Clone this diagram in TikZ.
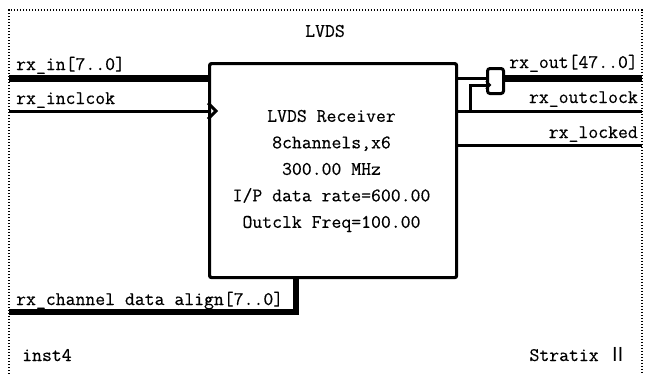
\documentclass[tikz,border=0pt]{standalone}
\usepackage{fontspec}
\setmonofont{Latin Modern Mono}[FakeBold=0.35]
\newfontfamily\cjk{Noto Sans CJK SC}
\begin{document}
\begin{tikzpicture}[x=1pt,y=-1pt,
  lbl/.style={font=\fontsize{19.2}{21}\selectfont\ttfamily\bfseries, inner sep=0pt},
  bus/.style={line width=7pt},
  wire/.style={line width=3pt},
  frame/.style={line width=1.6pt, dash pattern=on 1.3pt off 1.7pt}]
\useasboundingbox (0,0) rectangle (645,373);
% symbol frame
\draw[frame] (9,380) -- (9,10) -- (642,10) -- (642,380);
\node[lbl] (title) at (325,31) {LVDS};
% receiver block
\node[draw, line width=3.2pt, rounded corners=2pt, minimum width=247pt, minimum height=214pt,
      inner sep=0pt, anchor=north west] (rx) at (208,62) {};
\node[lbl, align=center, font=\fontsize{19.2}{26.5}\selectfont\ttfamily\bfseries] (info) at (331.5,171)
  {LVDS Receiver\\8channels,x6\\300.00 MHz\\I/P data rate=600.00\\Outclk Freq=100.00};
% coordinates of port ends
\coordinate (inL)   at (9,78);
\coordinate (inR)   at (rx.west |- inL);
\coordinate (clkL)  at (9,111);
\coordinate (clkR)  at (rx.west |- clkL);
\coordinate (alL)   at (9,312);
\coordinate (alC)   at (296,312);
\coordinate (alT)   at (rx.south -| alC);
\coordinate (oclkL) at (rx.east |- clkL);
\coordinate (oclkR) at (642,111);
\coordinate (lockL) at (rx.east |- 0,145);
\coordinate (lockR) at (642,145);
\coordinate (outR)  at (642,78);
% inputs
\draw[bus] (inL) -- (inR);
\node[lbl, anchor=base west] (lin) at (16,70) {rx\_in[7..0]};
\draw[wire] (clkL) -- (clkR);
\draw[wire, line join=miter] ([yshift=-8]clkR) -- ([xshift=8]clkR) -- ([yshift=8]clkR);
\node[lbl, anchor=base west] (lclk) at (16,104) {rx\_inclcok};
\draw[bus, line width=6pt] (alL) -- (alC) -- (alT);
\node[lbl, anchor=base west] (lal) at (16,305) {rx\_channel data align[7..0]};
% output register
\node[draw, line width=3pt, rounded corners=2.5pt, minimum width=16pt, minimum height=25pt,
      inner sep=0pt, anchor=north west] (reg) at (486,67) {};
\draw[wire] (rx.east |- 0,78) -- (reg.west |- 0,78);
\draw[wire] (470,111) -- (470,85) -- (reg.west |- 0,85);
\draw[line width=1.8pt] ([yshift=-4]reg.west |- 0,85) -- ([xshift=4]reg.west |- 0,85) -- ([yshift=4]reg.west |- 0,85);
\draw[bus] (reg.east |- outR) -- (outR);
\draw[wire] (oclkL) -- (oclkR);
\draw[wire] (lockL) -- (lockR);
\node[lbl, anchor=base east] (lout) at (638,68) {rx\_out[47..0]};
\node[lbl, anchor=base east] (loclk) at (638,103) {rx\_outclock};
\node[lbl, anchor=base east] (llock) at (638,138) {rx\_locked};
% footer labels
\node[lbl, anchor=base west] (inst) at (22,361) {inst4};
\node[lbl, anchor=base east] (fam) at (628,361) {Stratix {\cjk\mdseries Ⅱ}};
\end{tikzpicture}
\end{document}
